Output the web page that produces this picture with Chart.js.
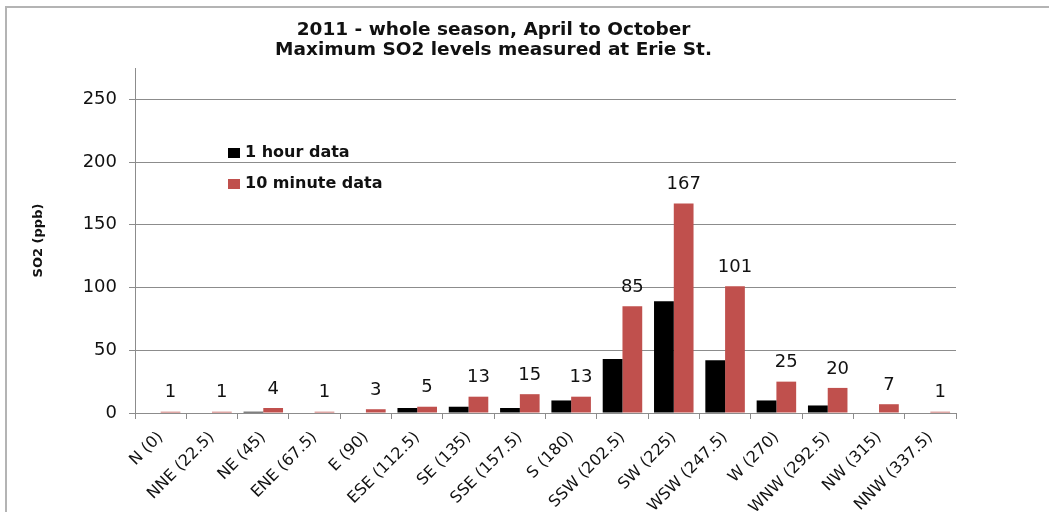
<!DOCTYPE html>
<html>
<head>
<meta charset="utf-8">
<title>Maximum SO2 levels measured at Erie St.</title>
<script src="https://cdn.jsdelivr.net/npm/chart.js@4.4.0/dist/chart.umd.min.js"></script>
<style>
  html, body { margin: 0; padding: 0; background: #fff; overflow: hidden; }
  #frame {
    position: absolute; left: 5px; top: 6px;
    width: 1100px; height: 600px;
    border: 2px solid #b4b4b4;
  }
  #wrap {
    position: absolute; left: 0; top: 0;
    width: 980px; height: 504px;
  }
</style>
</head>
<body>
<div id="frame">
  <div id="wrap"><canvas id="so2Chart"></canvas></div>
</div>
<script>
// ── Data ─────────────────────────────────────────────────────────────────
const directions = [
  'N (0)', 'NNE (22.5)', 'NE (45)', 'ENE (67.5)', 'E (90)', 'ESE (112.5)',
  'SE (135)', 'SSE (157.5)', 'S (180)', 'SSW (202.5)', 'SW (225)',
  'WSW (247.5)', 'W (270)', 'WNW (292.5)', 'NW (315)', 'NNW (337.5)'
];
const hourMax   = [0, 0, 1, 0, 0, 4, 5, 4, 10, 43, 89, 42, 10, 6, 0, 0];
const tenMinMax = [1, 1, 4, 1, 3, 5, 13, 15, 13, 85, 167, 101, 25, 20, 7, 1];
const yTicks    = [0, 50, 100, 150, 200, 250];

const titleLines = ['2011 - whole season, April to October', 'Maximum SO2 levels measured at Erie St.'];

// ── Colours ──────────────────────────────────────────────────────────────
const BLACK = '#000000';
const RED   = '#c0504d';
const GRID  = '#8c8c8c';
const TEXT  = '#111111';
const FONT  = '"DejaVu Sans", sans-serif';

// values printed above the 10-minute bars
const valueLabels = {
  id: 'valueLabels',
  afterDatasetsDraw(chart) {
    const { ctx } = chart;
    const meta = chart.getDatasetMeta(1);
    ctx.save();
    ctx.font = '18px ' + FONT;
    ctx.fillStyle = TEXT;
    ctx.textAlign = 'center';
    ctx.textBaseline = 'middle';
    meta.data.forEach((bar, i) => {
      ctx.fillText(String(tenMinMax[i]), bar.x, bar.y - 19);
    });
    ctx.restore();
  }
};

// legend sits inside the plot, top-left
const innerLegend = {
  id: 'innerLegend',
  afterDraw(chart) {
    const { ctx, chartArea } = chart;
    const x = chartArea.left + 93;
    let y = chartArea.top + 85;
    ctx.save();
    ctx.font = 'bold 16px ' + FONT;
    ctx.textBaseline = 'middle';
    chart.data.datasets.forEach(ds => {
      ctx.fillStyle = ds.backgroundColor;
      ctx.fillRect(x, y - 5, 12, 10);
      ctx.fillStyle = TEXT;
      ctx.fillText(ds.label, x + 17, y);
      y += 31;
    });
    ctx.restore();
  }
};

new Chart(document.getElementById('so2Chart'), {
  type: 'bar',
  data: {
    labels: directions,
    datasets: [
      { label: '1 hour data',    data: hourMax,   backgroundColor: BLACK },
      { label: '10 minute data', data: tenMinMax, backgroundColor: RED }
    ]
  },
  options: {
    responsive: true,
    maintainAspectRatio: false,
    animation: false,
    datasets: { bar: { categoryPercentage: 0.77, barPercentage: 1.0 } },
    layout: { padding: { left: 24, right: 31, top: 0, bottom: 0 } },
    plugins: {
      legend: { display: false },
      tooltip: { enabled: false },
      title: {
        display: true,
        text: titleLines,
        color: TEXT,
        font: { family: FONT, size: 18.5, weight: 'bold', lineHeight: 20 / 18.5 },
        padding: { top: 12, bottom: 8 }
      }
    },
    scales: {
      x: {
        grid: { display: true, drawOnChartArea: false, color: GRID, tickLength: 6, offset: true },
        border: { color: GRID },
        ticks: {
          autoSkip: false, minRotation: 45, maxRotation: 45,
          color: TEXT, padding: 9,
          font: { family: FONT, size: 16 }
        },
        afterFit: s => { s.height = 99; }
      },
      y: {
        min: 0,
        max: 275,
        afterBuildTicks: s => { s.ticks = yTicks.map(v => ({ value: v })); },
        grid: { color: GRID, tickLength: 6 },
        border: { color: GRID },
        ticks: { color: TEXT, padding: 12, font: { family: FONT, size: 18 } },
        title: {
          display: true,
          text: 'SO2 (ppb)',
          color: TEXT,
          font: { family: FONT, size: 13, weight: 'bold' },
          padding: { top: 0, bottom: 0 }
        },
        afterFit: s => { s.width = 104; }
      }
    }
  },
  plugins: [valueLabels, innerLegend]
});
</script>
</body>
</html>
